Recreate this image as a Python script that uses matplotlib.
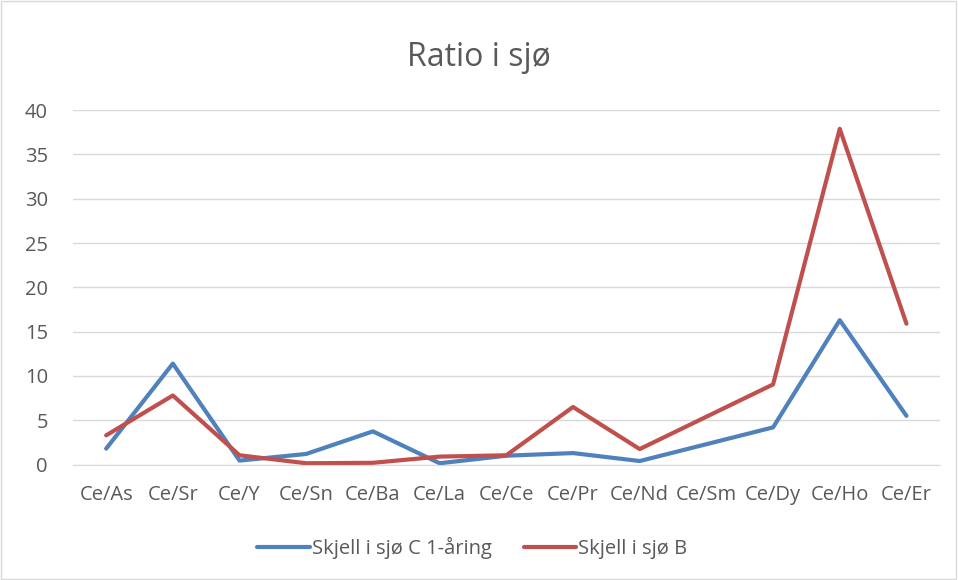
import matplotlib
matplotlib.use("Agg")
import matplotlib.pyplot as plt
from matplotlib.patches import Rectangle

categories = ["Ce/As", "Ce/Sr", "Ce/Y", "Ce/Sn", "Ce/Ba", "Ce/La", "Ce/Ce",
              "Ce/Pr", "Ce/Nd", "Ce/Sm", "Ce/Dy", "Ce/Ho", "Ce/Er"]
skjell_c = [1.8, 11.4, 0.45, 1.2, 3.75, 0.15, 1.0, 1.3, 0.4, 2.3, 4.2, 16.3, 5.5]
skjell_b = [3.3, 7.8, 1.05, 0.15, 0.2, 0.9, 1.05, 6.5, 1.75, 5.4, 9.05, 37.9, 15.9]
yticks = [0, 5, 10, 15, 20, 25, 30, 35, 40]

plt.rcParams['font.family'] = ['Open Sans', 'DejaVu Sans']
grey = '#595959'

fig = plt.figure(figsize=(9.58, 5.8), dpi=100)
fig.patches.append(Rectangle((0.001, 0.001), 0.997, 0.997, transform=fig.transFigure,
                             fill=False, edgecolor='#d9d9d9', lw=1))
ax = fig.add_axes([0.076, 0.199, 0.905, 0.611])

x = list(range(len(categories)))
ax.plot(x, skjell_c, color='#4F81BD', lw=3, solid_capstyle='round', label='Skjell i sjø C 1-åring')
ax.plot(x, skjell_b, color='#C0504D', lw=3, solid_capstyle='round', label='Skjell i sjø B')

ax.set_xlim(-0.5, len(categories) - 0.5)
ax.set_ylim(0, 40)
ax.set_yticks(yticks)
ax.set_xticks(x)
ax.set_xticklabels(categories)
ax.yaxis.grid(True, color='#d9d9d9', lw=1)
ax.set_axisbelow(True)
for s in ['top', 'right', 'left']:
    ax.spines[s].set_visible(False)
ax.spines['bottom'].set_color('#d9d9d9')
ax.tick_params(length=0, labelsize=14.5, colors=grey)
ax.tick_params(axis='x', pad=15)
ax.tick_params(axis='y', pad=18)

fig.text(0.5, 0.9, 'Ratio i sjø', ha='center', va='center', fontsize=23, color=grey)
fig.legend(loc='center', bbox_to_anchor=(0.493, 0.055), ncol=2, frameon=False,
           fontsize=14.5, labelcolor=grey, handlelength=2.6, handletextpad=0.1, columnspacing=1.6)

fig.savefig('out.png', dpi=100)
